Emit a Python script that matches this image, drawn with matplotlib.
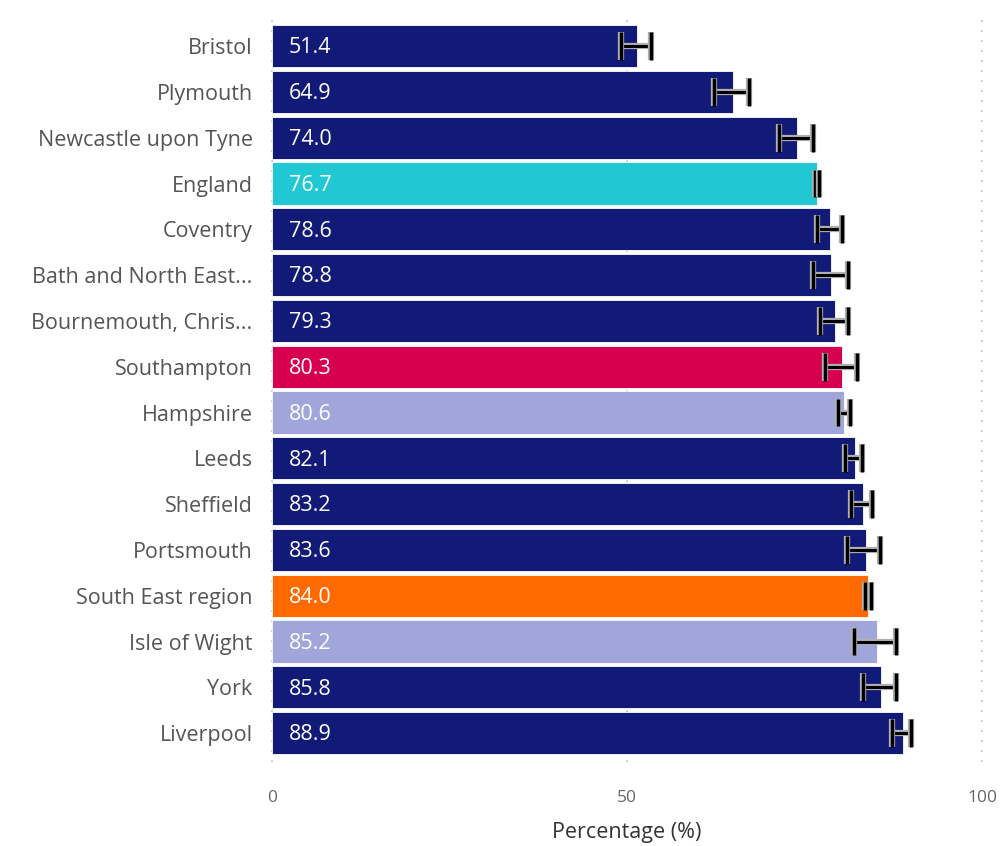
import numpy as np
import matplotlib
matplotlib.use("Agg")
import matplotlib.pyplot as plt
import matplotlib.patheffects as pe

plt.rcParams['font.family'] = ['Open Sans', 'DejaVu Sans']

areas = ["Bristol", "Plymouth", "Newcastle upon Tyne", "England", "Coventry",
         "Bath and North East...", "Bournemouth, Chris...", "Southampton",
         "Hampshire", "Leeds", "Sheffield", "Portsmouth", "South East region",
         "Isle of Wight", "York", "Liverpool"]
values = [51.4, 64.9, 74.0, 76.7, 78.6, 78.8, 79.3, 80.3,
          80.6, 82.1, 83.2, 83.6, 84.0, 85.2, 85.8, 88.9]
lower_ci = [49.2, 62.3, 71.4, 76.5, 76.8, 76.2, 77.2, 77.9,
            79.7, 80.7, 81.5, 81.0, 83.5, 82.0, 83.2, 87.3]
upper_ci = [53.4, 67.2, 76.2, 77.0, 80.3, 81.1, 81.1, 82.4,
            81.4, 83.1, 84.5, 85.6, 84.4, 87.9, 87.9, 90.0]
groups = ["other", "other", "other", "england", "other", "other", "other", "southampton",
          "neighbour", "other", "other", "other", "region", "neighbour", "other", "other"]

palette = {"other": "#121A78", "england": "#1FC8D3", "southampton": "#D6004F",
           "neighbour": "#A0A6D9", "region": "#FF6A00"}
colors = [palette[g] for g in groups]

fig = plt.figure(figsize=(10.02, 8.46), dpi=100)
ax = fig.add_axes([272 / 1002, 1 - 762 / 846, 710 / 1002, 742 / 846])

y = np.arange(len(areas))
ax.barh(y, values, height=0.92, color=colors, edgecolor="white", linewidth=0.6, zorder=2)

vals = np.array(values)
xerr = [vals - np.array(lower_ci), np.array(upper_ci) - vals]
eb = ax.errorbar(vals, y, xerr=xerr, fmt="none", ecolor="black", elinewidth=2.2,
                 capsize=10, capthick=2.5, zorder=3)
for artist in eb.lines[1] + eb.lines[2]:
    artist.set_path_effects([pe.Stroke(linewidth=4.5, foreground="#B0B0B0"), pe.Normal()])

for yi, v in zip(y, values):
    ax.text(2.4, yi + 0.04, f"{v:.1f}", color="white", fontsize=15.5,
            va="center", ha="left", zorder=4)

ax.set_xlim(0, 100)
ax.set_ylim(len(areas) - 1 + 0.63, -0.57)
ax.set_yticks(y)
ax.set_yticklabels(areas, fontsize=15.5, color="#555555")
ax.set_xticks([0, 50, 100])
ax.set_xticklabels(["0", "50", "100"], fontsize=12.5, color="#666666")
ax.tick_params(axis="both", length=0)
ax.tick_params(axis="y", pad=14)
ax.tick_params(axis="x", pad=20)
ax.set_xlabel("Percentage (%)", fontsize=15.5, color="#333333", labelpad=12)

for s in ax.spines.values():
    s.set_visible(False)
ax.grid(axis="x", linestyle=(0, (1, 5)), color="#BBBBBB", linewidth=1.2, zorder=0)
for gl in ax.get_xgridlines():
    gl.set_clip_on(False)
ax.set_axisbelow(True)

fig.savefig("out.png", dpi=100)
